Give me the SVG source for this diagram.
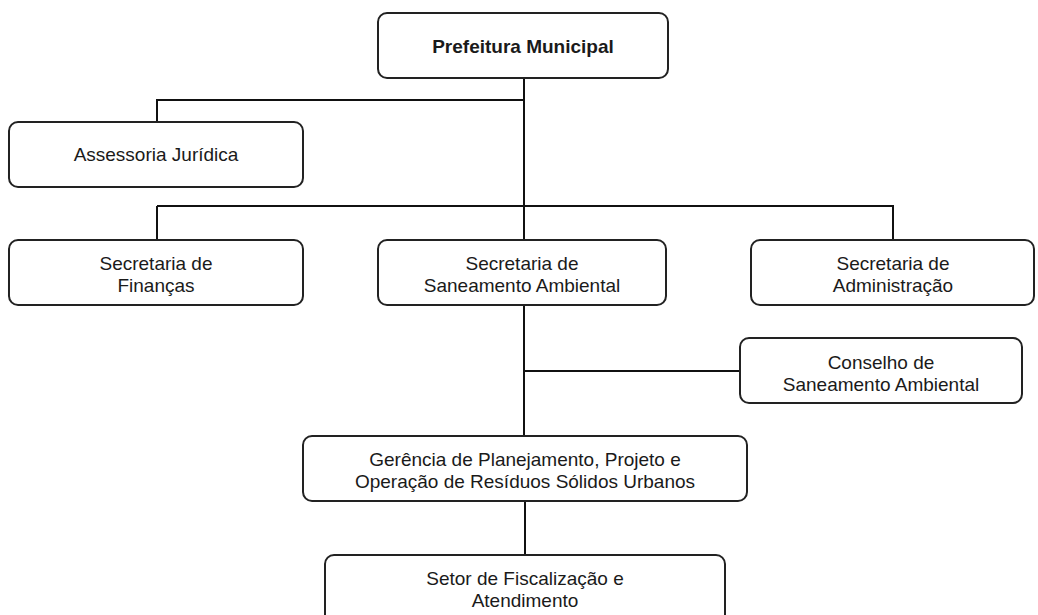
<svg xmlns="http://www.w3.org/2000/svg" width="1038" height="615" viewBox="0 0 1038 615">
<style>
.box{fill:#fff;stroke:#222;stroke-width:2}
.t{font-family:"Liberation Sans",Arial,sans-serif;font-size:19px;fill:#1a1a1a;text-anchor:middle}
.b{font-weight:bold}
.c{fill:none;stroke:#111;stroke-width:2}
</style>
<rect width="1038" height="615" fill="#fff"/>
<g id="connectors">
<path class="c" d="M524 78V436M524 100H157V122M157 206V240M157 206H893V240M524 371H740M525 501V555"/>
</g>
<g id="prefeitura"><rect class="box" x="378" y="13" width="290" height="65" rx="9"/><text class="t b" x="523" y="53">Prefeitura Municipal</text></g>
<g id="assessoria"><rect class="box" x="9" y="122" width="294" height="65" rx="9"/><text class="t" x="156" y="161">Assessoria Jurídica</text></g>
<g id="financas"><rect class="box" x="9" y="240" width="294" height="65" rx="9"/><text class="t" x="156" y="270">Secretaria de</text><text class="t" x="156" y="292">Finanças</text></g>
<g id="saneamento"><rect class="box" x="378" y="240" width="288" height="65" rx="9"/><text class="t" x="522" y="270">Secretaria de</text><text class="t" x="522" y="292">Saneamento Ambiental</text></g>
<g id="administracao"><rect class="box" x="751" y="240" width="283" height="65" rx="9"/><text class="t" x="893" y="270">Secretaria de</text><text class="t" x="893" y="292">Administração</text></g>
<g id="conselho"><rect class="box" x="740" y="338" width="282" height="65" rx="9"/><text class="t" x="881" y="369">Conselho de</text><text class="t" x="881" y="391">Saneamento Ambiental</text></g>
<g id="gerencia"><rect class="box" x="303" y="436" width="444" height="65" rx="9"/><text class="t" x="525" y="466">Gerência de Planejamento, Projeto e</text><text class="t" x="525" y="488">Operação de Resíduos Sólidos Urbanos</text></g>
<g id="setor"><rect class="box" x="325" y="555" width="400" height="70" rx="9"/><text class="t" x="525" y="585">Setor de Fiscalização e</text><text class="t" x="525" y="607">Atendimento</text></g>
</svg>
